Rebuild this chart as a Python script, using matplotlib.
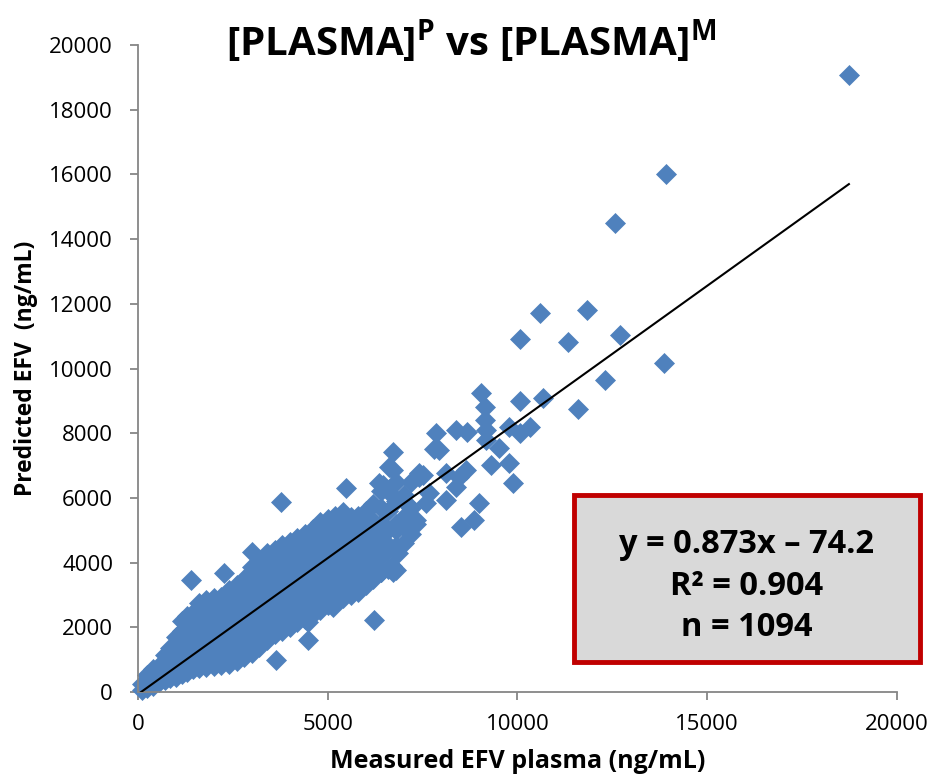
import matplotlib
matplotlib.use("Agg")
import matplotlib.pyplot as plt
from matplotlib.patches import Rectangle

plt.rcParams['font.family'] = ['Open Sans', 'DejaVu Sans']
plt.rcParams['mathtext.fontset'] = 'custom'
plt.rcParams['mathtext.bf'] = 'Open Sans:bold'
plt.rcParams['mathtext.rm'] = 'Open Sans'

# ---------------- DATA ----------------
# dense cloud, listed column by column (measured x, predicted y)
meas = (
    [100] * 2 + [250] * 3 + [400] * 3 + [550] * 3 + [700] * 4 + [850] * 4 +
    [1000] * 5 + [1150] * 6 + [1300] * 6 + [1450] * 6 + [1600] * 7 +
    [1800] * 7 + [2000] * 7 + [2200] * 7 + [2400] * 8 + [2600] * 8 +
    [2800] * 8 + [3000] * 9 + [3200] * 9 + [3400] * 9 + [3600] * 9 +
    [3800] * 9 + [4000] * 9 + [4200] * 9 + [4400] * 9 + [4600] * 9 +
    [4800] * 9 + [5000] * 9 + [5200] * 9 + [5400] * 9 + [5600] * 7 +
    [5800] * 7 + [6000] * 7 + [6200] * 6 + [6400] * 6 + [6600] * 5 +
    [6800] * 5 + [7000] * 3 + [7200] * 3
)
pred = [
    60, 250,
    120, 330, 520,
    200, 450, 700,
    300, 550, 800,
    360, 650, 950, 1150,
    420, 720, 1050, 1350,
    480, 800, 1150, 1450, 1700,
    550, 880, 1200, 1550, 1900, 2200,
    620, 950, 1300, 1650, 2000, 2350,
    700, 1050, 1400, 1750, 2100, 2450,
    740, 1100, 1450, 1800, 2150, 2500, 2750,
    770, 1150, 1500, 1850, 2200, 2550, 2850,
    800, 1150, 1500, 1850, 2200, 2550, 2900,
    840, 1200, 1550, 1900, 2250, 2600, 2950,
    880, 1250, 1600, 1950, 2300, 2650, 3000, 3150,
    950, 1300, 1650, 2000, 2350, 2700, 3050, 3300,
    1080, 1400, 1750, 2100, 2450, 2800, 3150, 3500,
    1200, 1550, 1900, 2250, 2600, 2950, 3300, 3650, 3850,
    1400, 1750, 2100, 2450, 2800, 3150, 3500, 3850, 4050,
    1600, 1950, 2300, 2650, 3000, 3350, 3700, 4050, 4300,
    1800, 2100, 2450, 2800, 3150, 3500, 3850, 4200, 4400,
    1900, 2250, 2600, 2950, 3300, 3650, 4000, 4350, 4550,
    2000, 2350, 2700, 3050, 3400, 3750, 4100, 4450, 4650,
    2150, 2500, 2850, 3200, 3550, 3900, 4250, 4600, 4750,
    2250, 2600, 2950, 3300, 3650, 4000, 4350, 4700, 4900,
    2400, 2750, 3100, 3450, 3800, 4150, 4500, 4850, 5050,
    2550, 2900, 3250, 3600, 3950, 4300, 4650, 5000, 5250,
    2700, 3050, 3400, 3750, 4100, 4450, 4800, 5150, 5350,
    2800, 3150, 3500, 3850, 4200, 4550, 4900, 5250, 5450,
    2900, 3250, 3600, 3950, 4300, 4650, 5000, 5350, 5550,
    3000, 3400, 3800, 4200, 4600, 5000, 5400,
    3100, 3500, 3900, 4300, 4700, 5100, 5450,
    3300, 3700, 4100, 4500, 4900, 5300, 5600,
    3500, 3950, 4400, 4850, 5300, 5800,
    3700, 4200, 4700, 5200, 5700, 6200,
    3800, 4400, 5000, 5600, 6200,
    3770, 4500, 5200, 5900, 6500,
    4600, 5400, 6100,
    4900, 5700, 6500,
]

# scattered points outside the dense cloud
meas_out = [1400, 2270, 3016, 3765, 5480, 3633, 4467, 4467, 5127, 6227,
            6359, 6446, 6623, 6710, 6710, 6860, 6400, 6720, 6700, 6535,
            6799, 7063, 7063, 7330, 7326, 7414, 7414, 7502, 7800, 7850,
            7942, 8382, 8662, 8646, 8470, 8118, 8382, 7590, 8118, 7678,
            8997, 8865, 8514, 9042, 9156, 9156, 9174, 9771, 10317, 10053,
            9174, 9525, 9306, 9789, 9894, 10053, 10675, 11601, 12304, 13852,
            12700, 11319, 10071, 11830, 10580, 12568, 13923, 18733]
pred_out = [3460, 3670, 4337, 5883, 6297, 989, 1607, 2174, 2637, 2226,
            6451, 6399, 6965, 7430, 6862, 4290, 3700, 3700, 3900, 4597,
            5008, 5833, 5276, 5190, 5317, 6656, 6760, 6708, 7500, 7995,
            7481, 8099, 8046, 6862, 6656, 6759, 6347, 5833, 5935, 6140,
            5833, 5317, 5111, 9230, 8800, 8408, 8099, 8200, 8200, 7995,
            7790, 7532, 7017, 7068, 6450, 9006, 9080, 8739, 9645, 10180,
            11036, 10810, 10921, 11800, 11706, 14488, 16022, 19070]

# trend line as drawn on the chart
line_x = [80, 18733]
line_y = [0, 15700]

x_ticks = [0, 5000, 10000, 15000, 20000]
y_ticks = list(range(0, 20001, 2000))

stats_lines = ["y = 0.873x \u2013 74.2", "R\u00b2 = 0.904", "n = 1094"]

# ---------------- FIGURE ----------------
fig = plt.figure(figsize=(9.3, 7.84), dpi=100)
ax = fig.add_axes([0.1484, 0.1173, 0.8161, 0.8253])

blue = '#4F81BD'
ax.plot(meas, pred, linestyle='none', marker='D', ms=10.2,
        color=blue, mec=blue, mew=0.5, clip_on=False, zorder=2)
ax.plot(meas_out, pred_out, linestyle='none', marker='D', ms=10.2,
        color=blue, mec=blue, mew=0.5, clip_on=False, zorder=2)
ax.plot(line_x, line_y, color='black', lw=1.5, zorder=3)

ax.set_xlim(0, 20000)
ax.set_ylim(0, 20000)
ax.set_xticks(x_ticks)
ax.set_yticks(y_ticks)
ax.tick_params(direction='out', length=6, width=1.3, color='#868686',
               labelsize=16)
ax.tick_params(axis='y', pad=12)
ax.tick_params(axis='x', pad=10)

for side in ['top', 'right']:
    ax.spines[side].set_visible(False)
for side in ['left', 'bottom']:
    ax.spines[side].set_color('#868686')
    ax.spines[side].set_linewidth(1.3)

ax.set_xlabel("Measured EFV plasma (ng/mL)", fontsize=18, fontweight='bold',
              labelpad=10)
ax.set_ylabel("Predicted EFV  (ng/mL)", fontsize=16.5, fontweight='bold',
              labelpad=8)

fig.text(0.507, 0.948, r"[PLASMA]$^{\mathbf{P}}$ vs [PLASMA]$^{\mathbf{M}}$",
         ha='center', va='center', fontsize=29, fontweight='bold')

# stats box
box = Rectangle((0.617, 0.155), 0.372, 0.214, transform=fig.transFigure,
                facecolor='#D9D9D9', edgecolor='#C00000', linewidth=3.5,
                zorder=5)
fig.patches.append(box)
for i, s in enumerate(stats_lines):
    fig.text(0.803, 0.305 - i * 0.053, s, ha='center', va='center',
             fontsize=23.5, fontweight='bold', zorder=6)

plt.savefig("out.png", dpi=100)
plt.close()
